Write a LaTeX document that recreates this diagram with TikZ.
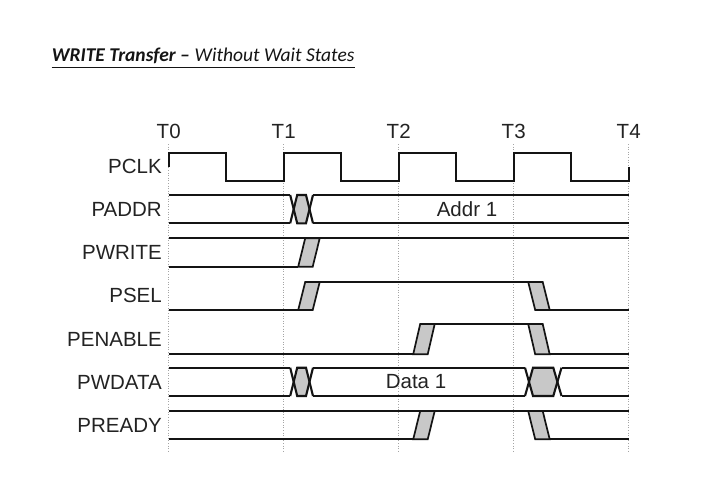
\documentclass[tikz,border=0pt]{standalone}
\usepackage{fontspec}
\usetikzlibrary{calc}
\setmainfont{Liberation Sans}
\newfontfamily\titlefont{Carlito}
\definecolor{sigcol}{RGB}{20,20,20}
\definecolor{labcol}{RGB}{35,35,35}
\definecolor{transfill}{RGB}{200,200,200}
\definecolor{gridcol}{RGB}{165,165,165}
\newcommand\apbRise[3]{\filldraw[trans] (#1,#2) -- ({#1+14.5},#2) -- ({#1+21.5},#3) -- ({#1+7},#3) -- cycle;}
\newcommand\apbFall[3]{\filldraw[trans] (#1,#3) -- ({#1+14.5},#3) -- ({#1+21.5},#2) -- ({#1+7},#2) -- cycle;}
% a b c d ytop ybot
\newcommand\apbCross[6]{%
  \fill[transfill] ({(#1+#2)/2},{(#5+#6)/2}) -- (#2,#5) -- (#3,#5) -- ({(#3+#4)/2},{(#5+#6)/2}) -- (#3,#6) -- (#2,#6) -- cycle;
  \draw[sig] (#1,#5) -- (#2,#6) -- (#3,#6) -- (#4,#5);
  \draw[sig] (#1,#6) -- (#2,#5) -- (#3,#5) -- (#4,#6);}
\begin{document}
\begin{tikzpicture}[x=1pt,y=-1pt,
  sig/.style={draw=sigcol,line width=2.1pt},
  trans/.style={draw=sigcol,fill=transfill,line width=1.7pt,line join=miter},
  gridline/.style={draw=gridcol,line width=0.9pt,dash pattern=on 1pt off 1.6pt},
  lbl/.style={font=\fontsize{20.5}{24}\selectfont,text=labcol,anchor=east,inner sep=0pt},
  tlbl/.style={font=\fontsize{20.5}{24}\selectfont,text=labcol,anchor=center,inner sep=0pt},
  vlbl/.style={font=\fontsize{20.5}{24}\selectfont,text=labcol,anchor=center,inner sep=0pt},
  ttl/.style={font=\titlefont\fontsize{19.5}{23}\selectfont,text=sigcol,anchor=base west,inner sep=0pt}]
\useasboundingbox[fill=white] (0,0) rectangle (725,491);

% title
\node[ttl] (t1) at (51.7,61.5) {\bfseries\itshape WRITE Transfer –};
\node[ttl] (t2) at ($(t1.base east)+(4.4,0)$) {\itshape Without Wait States};
\draw[sigcol,line width=1.6pt] ($(t1.base west)+(0,6)$) -- ($(t2.base west)+(0,6)$);
\draw[sigcol,line width=1pt] ($(t2.base west)+(0,6)$) -- ($(t2.base east)+(0,6)$);

% time grid
\foreach \x/\t in {168.7/0,283.7/1,398.7/2,513.7/3,628.7/4}{
  \draw[gridline] (\x,144) -- (\x,452);
  \node[tlbl] (T\t) at (\x,131) {T\t};
}

% labels
\node[lbl] (lclk) at (162,166.5) {PCLK};
\node[lbl] (laddr) at (162,209.5) {PADDR};
\node[lbl] (lwrite) at (162,252.5) {PWRITE};
\node[lbl] (lsel) at (162,295.5) {PSEL};
\node[lbl] (len) at (162,339) {PENABLE};
\node[lbl] (lwdata) at (162,382) {PWDATA};
\node[lbl] (lready) at (162,425) {PREADY};

% PCLK
\draw[sig,line join=miter] (168.7,166.5) -- (168.7,153.3) -- (226.2,153.3) -- (226.2,181) -- (283.7,181) -- (283.7,153.3) -- (341.2,153.3) -- (341.2,181) -- (398.7,181) -- (398.7,153.3) -- (456.2,153.3) -- (456.2,181) -- (513.7,181) -- (513.7,153.3) -- (571.2,153.3) -- (571.2,181) -- (628.7,181) -- (628.7,166.5);

% PADDR
\draw[sig] (168.7,195) -- (290.2,195) (313,195) -- (628.7,195);
\draw[sig] (168.7,223.3) -- (290.2,223.3) (313,223.3) -- (628.7,223.3);
\apbCross{290.2}{297.2}{306}{313}{195}{223.3}
\node[vlbl] (addr) at (467,209.5) {Addr 1};

% PWRITE
\draw[sig] (168.7,238.3) -- (628.7,238.3);
\draw[sig] (168.7,266.7) -- (298.2,266.7);
\apbRise{298.2}{266.7}{238.3}

% PSEL
\draw[sig] (168.7,310) -- (298.2,310);
\draw[sig] (305.2,282) -- (542.7,282);
\draw[sig] (535.2,310) -- (628.7,310);
\apbRise{298.2}{310}{282}
\apbFall{528.2}{310}{282}

% PENABLE
\draw[sig] (168.7,354.3) -- (413.2,354.3);
\draw[sig] (420.2,324) -- (542.7,324);
\draw[sig] (535.2,354.3) -- (628.7,354.3);
\apbRise{413.2}{354.3}{324}
\apbFall{528.2}{354.3}{324}

% PWDATA
\draw[sig] (168.7,367.7) -- (290.2,367.7) (313,367.7) -- (525,367.7) (561.5,367.7) -- (628.7,367.7);
\draw[sig] (168.7,396) -- (290.2,396) (313,396) -- (525,396) (561.5,396) -- (628.7,396);
\apbCross{290.2}{297.2}{306}{313}{367.7}{396}
\apbCross{525}{533}{553.3}{561.5}{367.7}{396}
\node[vlbl] (data) at (416,382) {Data 1};

% PREADY
\draw[sig] (168.7,411) -- (628.7,411);
\draw[sig] (168.7,439.3) -- (413.2,439.3);
\draw[sig] (535.2,439.3) -- (628.7,439.3);
\apbRise{413.2}{439.3}{411}
\apbFall{528.2}{439.3}{411}
\end{tikzpicture}
\end{document}
